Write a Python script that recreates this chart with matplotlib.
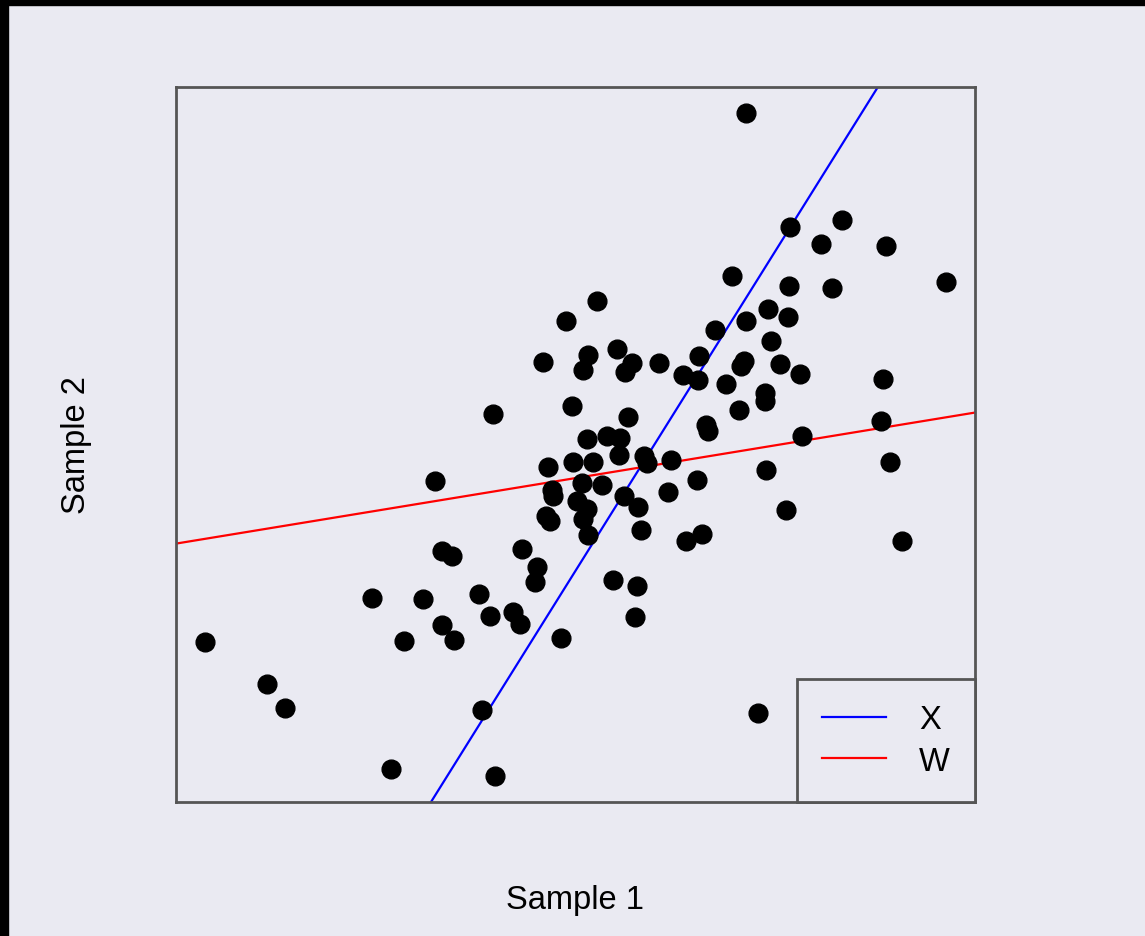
import numpy as np
import matplotlib
matplotlib.use('Agg')
from matplotlib import pyplot as plt
from matplotlib.patches import Rectangle

plt.rcParams['font.family'] = ['Liberation Sans', 'DejaVu Sans']

BG = '#EAEAF2'
FRAME = '#555555'

# sample values
sample1 = [1.70, 2.14, 2.66, 2.45, 3.10, 1.56, 2.13, 2.56, 3.70, 0.21,
           -0.10, 1.70, 1.92, 2.12, 1.39, 1.95, -0.33, 0.12, 0.07, 0.41,
           0.56, 0.49, 0.83, 1.23, 1.68, 1.65, 2.04, 2.24, 1.07, 1.22,
           1.50, 1.89, 1.89, 1.63, 3.07, -0.04, -0.83, 0.52, 1.30, 1.32,
           0.11, 0.31, 0.44, 2.26, 3.05, 0.43, 0.17, -0.03, -0.28, 0.68,
           0.71, 0.95, 1.90, 3.14, -1.41, 0.06, 0.26, -0.24, -0.23, 0.48,
           0.92, 1.21, 0.01, 0.11, 0.62, -0.30, -0.26, 0.07, 0.12, 0.65,
           2.10, -1.34, -1.24, -0.54, -0.39, -0.41, 0.37, 0.61, 1.10, 1.26,
           3.26, -2.04, -1.53, -0.97, -0.86, -0.63, -0.56, -1.34, -1.22, -1.72,
           0.59, -0.15, -3.71, -3.09, -2.91, -0.94, 1.82, -1.85, -0.81]
sample2 = [3.32, 2.18, 2.25, 2.01, 1.99, 1.69, 1.59, 1.57, 1.63, 1.44,
           1.24, 1.24, 1.36, 1.28, 1.15, 1.04, 0.83, 0.90, 0.75, 0.96,
           0.82, 0.73, 0.82, 0.89, 0.84, 0.79, 0.81, 0.71, 0.70, 0.65,
           0.61, 0.52, 0.44, 0.35, 0.66, 0.39, 0.31, 0.28, 0.20, 0.14,
           0.06, 0.09, 0.07, 0.09, 0.24, -0.10, -0.17, -0.17, -0.22, -0.11,
           -0.18, -0.15, -0.25, -0.17, -0.36, -0.38, -0.40, -0.45, -0.51, -0.51,
           -0.47, -0.35, -0.56, -0.64, -0.62, -0.71, -0.76, -0.74, -0.90, -0.85,
           -0.65, -1.06, -1.11, -1.04, -1.22, -1.37, -1.35, -1.41, -0.96, -0.89,
           -0.96, -1.53, -1.54, -1.49, -1.71, -1.67, -1.79, -1.80, -1.95, -1.96,
           -1.72, -1.93, -1.97, -2.39, -2.63, -2.65, -2.68, -3.24, -3.31]

# fitted directions: (intercept, slope)
line_names = ['X', 'W']
line_intercepts = [-1.25, -0.33]
line_slopes = [1.60, 0.164]
line_colors = ['#0000FF', '#FF0000']

fig = plt.figure(figsize=(11.45, 9.37), dpi=100, facecolor=BG)
ax = fig.add_axes([176/1145, 134/937, 799/1145, 715/937])
ax.set_facecolor(BG)

ax.plot(sample1, sample2, 'o', color='black', markersize=13.5, zorder=3)
for name, a, b, c in zip(line_names, line_intercepts, line_slopes, line_colors):
  ax.axline((0, a), slope=b, color=c, lw=1.6, label=name, zorder=2)

ax.set_xlim(-4.00, 3.99)
ax.set_ylim(-3.57, 3.58)
ax.set_xticks([])
ax.set_yticks([])
for s in ax.spines.values():
  s.set_color(FRAME)
  s.set_linewidth(2)

ax.set_xlabel('Sample 1', fontsize=23.5)
ax.xaxis.set_label_coords(0.5, -0.114)
ax.set_ylabel('Sample 2', fontsize=23.5)
ax.yaxis.set_label_coords(-0.105, 0.5)

leg = ax.legend(loc='lower right', bbox_to_anchor=(1, 0), borderaxespad=0,
                fontsize=23.5, handlelength=1.96, handletextpad=1.0,
                borderpad=0.78, labelspacing=0.31, fancybox=False,
                framealpha=1, facecolor=BG, edgecolor=FRAME)
leg.get_frame().set_linewidth(2)

# black strips along the top and left edge
fig.patches.append(Rectangle((0, 1 - 6/937), 1, 6/937, transform=fig.transFigure,
                             color='black', zorder=10))
fig.patches.append(Rectangle((0, 0), 8/1145, 1, transform=fig.transFigure,
                             color='black', zorder=10))

plt.savefig('out.png', dpi=100, facecolor=BG)
